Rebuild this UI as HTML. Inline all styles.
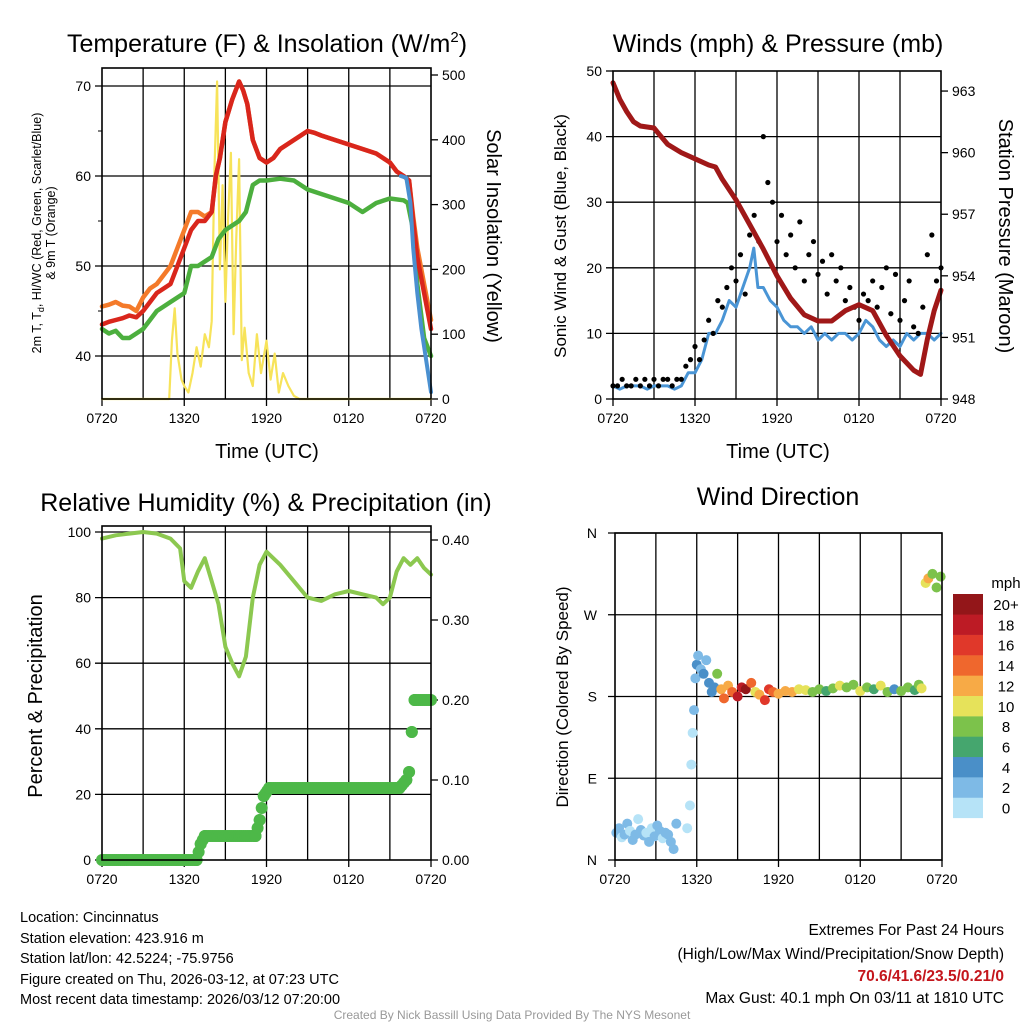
<!DOCTYPE html>
<html><head><meta charset="utf-8">
<style>
html,body{margin:0;padding:0;background:#fff;}
svg{display:block;font-family:"Liberation Sans",Arial,sans-serif;}
</style></head>
<body>
<svg id="c" width="1024" height="1024" viewBox="0 0 1024 1024">
<rect width="1024" height="1024" fill="#fff"/>
<g id="g"></g>
<text x="267" y="52" font-size="25" text-anchor="middle">Temperature (F) &amp; Insolation (W/m<tspan font-size="15" dy="-10">2</tspan><tspan dy="10">)</tspan></text>
<text x="778" y="52" font-size="25" text-anchor="middle">Winds (mph) &amp; Pressure (mb)</text>
<text x="266" y="511" font-size="25" text-anchor="middle">Relative Humidity (%) &amp; Precipitation (in)</text>
<text x="778" y="505" font-size="25" text-anchor="middle">Wind Direction</text>
<text x="267" y="458" font-size="20" text-anchor="middle">Time (UTC)</text>
<text x="778" y="458" font-size="20" text-anchor="middle">Time (UTC)</text>
<text transform="translate(41,233) rotate(-90)" font-size="12.5" text-anchor="middle">2m T, T<tspan font-size="9" dy="3">d</tspan><tspan dy="-3">, HI/WC (Red, Green, Scarlet/Blue)</tspan></text>
<text transform="translate(55,233) rotate(-90)" font-size="12.5" text-anchor="middle">&amp; 9m T (Orange)</text>
<text transform="translate(487,236) rotate(90)" font-size="20" text-anchor="middle">Solar Insolation (Yellow)</text>
<text transform="translate(566,236) rotate(-90)" font-size="17" text-anchor="middle">Sonic Wind &amp; Gust (Blue, Black)</text>
<text transform="translate(999,236) rotate(90)" font-size="20" text-anchor="middle">Station Pressure (Maroon)</text>
<text transform="translate(42,696) rotate(-90)" font-size="20" text-anchor="middle">Percent &amp; Precipitation</text>
<text transform="translate(568,697) rotate(-90)" font-size="17" text-anchor="middle">Direction (Colored By Speed)</text>
<text x="1006" y="588" font-size="15" text-anchor="middle">mph</text>
<g font-size="14.5">
<text x="20" y="922">Location: Cincinnatus</text>
<text x="20" y="943">Station elevation: 423.916 m</text>
<text x="20" y="963">Station lat/lon: 42.5224; -75.9756</text>
<text x="20" y="984">Figure created on Thu, 2026-03-12, at 07:23 UTC</text>
<text x="20" y="1004">Most recent data timestamp: 2026/03/12 07:20:00</text>
</g>
<g font-size="15.5" text-anchor="end">
<text x="1004" y="935">Extremes For Past 24 Hours</text>
<text x="1004" y="959">(High/Low/Max Wind/Precipitation/Snow Depth)</text>
<text x="1004" y="981" fill="#c4161c" font-weight="bold">70.6/41.6/23.5/0.21/0</text>
<text x="1004" y="1003">Max Gust: 40.1 mph On 03/11 at 1810 UTC</text>
</g>
<text x="512" y="1019" font-size="12" fill="#999" text-anchor="middle">Created By Nick Bassill Using Data Provided By The NYS Mesonet</text>
</svg>
<script>
// ---- data (hours since 0720 UTC, value) ----
const xTickLabels = ["0720","1320","1920","0120","0720"];
const tempRed = [[0,43.5],[0.5,43.8],[1,44],[1.5,44.2],[2,44.5],[2.5,44.3],[3,45],[3.5,46],[4,47],[4.5,47.5],[5,48],[5.5,50],[6,52],[6.5,54],[7,55],[7.5,55],[8,56],[8.3,60],[8.6,62],[9,66],[9.5,68.5],[10,70.5],[10.3,69.5],[10.6,68],[11,64],[11.5,62],[12,61.5],[12.5,62],[13,63],[14,64],[14.5,64.5],[15,65],[15.5,64.8],[16,64.5],[17,64],[18,63.5],[19,63],[20,62.5],[21,61.5],[21.5,60.5],[22,60],[22.4,59.5],[22.7,55],[23,51],[23.5,47],[24,43]];
const tempOrange = [[0,45.5],[0.5,45.7],[1,46],[1.5,45.6],[2,45.5],[2.5,45],[3,46.5],[3.5,47.5],[4,48],[4.5,49],[5,50],[5.5,52],[6,54],[6.5,56],[7,56],[7.5,55.5],[8,56],[8.3,60],[8.6,62],[9,66],[9.5,68.5],[10,70.5],[10.3,69.5],[10.6,68],[11,64],[11.5,62],[12,61.5],[12.5,62],[13,63],[14,64],[14.5,64.5],[15,65],[15.5,64.8],[16,64.5],[17,64],[18,63.5],[19,63],[20,62.5],[21,61.5],[21.5,60.5],[22,60],[22.4,59.5],[22.7,55.5],[23,52],[23.5,48],[24,44]];
const tempGreen = [[0,43],[0.5,42.5],[1,42.8],[1.5,42],[2,42],[2.5,42.5],[3,43],[3.5,44],[4,45],[4.5,45.5],[5,46],[5.5,46.5],[6,47],[6.5,50],[7,50],[7.5,50.5],[8,51],[8.5,53],[9,54],[9.5,54.5],[10,55],[10.5,56],[11,59],[11.5,59.5],[12,59.5],[13,59.7],[14,59.5],[15,58.5],[16,58],[17,57.5],[18,57],[18.5,56.5],[19,56],[20,57],[21,57.5],[22,57.3],[22.3,57],[22.7,54],[23,48],[23.5,42],[24,40]];
const tempBlue = [[21.8,60],[22.2,59.8],[22.5,57],[22.7,52],[23,47],[23.3,43],[23.7,39],[24,36]];
const solar = [[0,0],[4.9,0],[5.1,90],[5.3,140],[5.5,70],[5.8,30],[6,20],[6.3,10],[6.6,40],[6.9,80],[7.2,50],[7.5,100],[7.8,80],[8,120],[8.2,350],[8.4,490],[8.6,200],[8.8,330],[9,150],[9.2,280],[9.4,380],[9.6,100],[9.8,250],[10,370],[10.2,60],[10.4,110],[10.7,40],[11,20],[11.3,100],[11.6,40],[12,90],[12.3,30],[12.6,70],[12.9,10],[13.2,40],[13.6,20],[14,5],[14.4,0],[24,0]];
const windSpeed = [[0,2],[0.5,1.5],[1,2],[1.5,2],[2,2],[2.5,1.5],[3,2],[3.5,2],[4,2],[4.5,1.5],[5,2],[5.5,4],[6,4],[6.5,6],[7,10],[7.5,10],[8,12],[8.5,15],[9,14],[9.5,17],[10,20],[10.3,23],[10.6,17],[11,17],[11.5,15],[12,14],[12.5,12],[13,11],[13.5,11],[14,10],[14.5,11],[15,9],[15.5,10],[16,9],[16.5,10],[17,10],[17.5,9],[18,10],[18.5,12],[19,11],[19.5,9],[20,8],[20.5,9],[21,8],[21.5,10],[22,9],[22.5,10],[23,10],[23.5,9],[24,10]];
const gustTimes = [0,0.33,0.67,1,1.33,1.67,2,2.33,2.67,3,3.33,3.67,4,4.33,4.67,5,5.33,5.67,6,6.33,6.67,7,7.33,7.67,8,8.33,8.67,9,9.33,9.67,10,10.33,10.67,11,11.33,11.67,12,12.33,12.67,13,13.33,13.67,14,14.33,14.67,15,15.33,15.67,16,16.33,16.67,17,17.33,17.67,18,18.33,18.67,19,19.33,19.67,20,20.33,20.67,21,21.33,21.67,22,22.33,22.67,23,23.33,23.67,24];
const gustVals = [2,2,3,2,2,3,2,3,2,3,2,3,3,2,3,3,5,6,8,6,9,12,10,15,14,17,20,18,22,16,25,28,24,40,33,30,24,28,22,25,20,27,18,22,24,19,21,16,22,18,20,15,17,14,12,16,15,18,14,17,20,13,19,12,15,18,11,10,14,22,25,18,20];
const pressure = [[0,963.4],[0.5,962.6],[1,962],[1.5,961.5],[2,961.3],[3,961.2],[3.5,960.8],[4,960.4],[5,960],[6,959.7],[7,959.4],[7.5,959.3],[8,958.7],[9,957.7],[10,956.5],[11,955.3],[12,954],[13,952.9],[14,952.1],[15,951.8],[16,951.8],[17,952.3],[18,952.6],[19,952.3],[20,951.1],[21,950.1],[22,949.4],[22.5,949.2],[23,950.9],[23.5,952.3],[24,953.3]];
const rh = [[0,98],[1,99],[2,99.5],[3,100],[4,99.5],[5,98],[5.7,95],[6,85],[6.5,83],[7,88],[7.5,92],[8,85],[8.5,78],[9,65],[9.5,60],[10,56],[10.5,62],[11,80],[11.5,90],[12,94],[13,90],[14,85],[15,80],[16,79],[17,81],[18,82],[19,81],[20,80],[20.5,78],[21,80],[21.5,88],[22,92],[22.5,90],[23,92],[23.5,89],[24,87]];
const precip = [[0,0],[6.9,0],[7.2,0.02],[7.5,0.03],[11.2,0.03],[11.5,0.05],[11.8,0.08],[12.2,0.09],[21.7,0.09],[22.2,0.1],[22.4,0.11],[22.6,0.16],[22.8,0.2],[24,0.2]];
const dirTimes = [0.1,0.3,0.5,0.7,0.9,1.1,1.3,1.5,1.7,1.9,2.1,2.3,2.5,2.7,2.9,3.1,3.3,3.5,3.7,3.9,4.1,4.3,4.5,5.3,5.5,5.6,5.7,5.8,5.9,6,6.1,6.3,6.5,6.7,6.9,7.1,7.3,7.5,7.8,8,8.3,8.6,9,9.3,9.6,10,10.3,10.6,11,11.3,11.6,12,12.5,13,13.5,14,14.5,15,15.5,16,16.5,17,17.5,18,18.5,19,19.5,20,20.5,21,21.5,22,22.3,22.5,22.8,23,23.3,23.6,23.9];
const dirVals = [30,35,25,28,40,32,22,28,45,33,27,30,20,35,26,38,32,24,30,28,20,12,40,35,60,105,140,165,200,215,225,210,205,220,195,185,190,205,188,178,192,185,180,190,188,195,185,182,176,188,185,183,186,185,188,187,185,188,186,189,192,190,193,186,190,188,192,185,188,186,190,187,193,189,305,310,315,300,312];
const dirSpeeds = [3,2,1,3,3,1,2,3,1,3,2,1,3,1,2,2,3,1,3,3,2,2,3,1,1,1,1,2,3,4,3,2,4,3,4,4,5,8,12,14,13,15,19,18,20,15,10,13,17,16,14,12,13,13,11,10,9,8,7,8,10,9,8,10,9,7,10,8,5,9,8,6,8,10,10,12,9,8,8];
const speedBins = ["0","2","4","6","8","10","12","14","16","18","20+"];
const speedColors = ["#b6e3f7","#7ebae6","#4a8fc8","#45a66e","#7cc24b","#e6e25a","#f7aa46","#ef672d","#e0382a","#bd1b25","#931619"];

const NS="http://www.w3.org/2000/svg";
const G=document.getElementById('g');
function mk(tag,attrs,parent){const e=document.createElementNS(NS,tag);for(const k in attrs)e.setAttribute(k,attrs[k]);(parent||G).appendChild(e);return e;}
function txt(x,y,s,size,anchor,parent){const t=mk('text',{x:x,y:y,'font-size':size,'text-anchor':anchor||'middle'},parent);t.textContent=s;return t;}

function panel(p){
  const grp=mk('g',{});
  
  
  p.xs=h=>p.x0+h*(p.x1-p.x0)/24;
  for(let h=3;h<24;h+=3) mk('line',{x1:p.xs(h),x2:p.xs(h),y1:p.y0,y2:p.y1,stroke:'#000','stroke-width':1.3},grp);
  xTickLabels.forEach((l,i)=>{const x=p.xs(i*6);mk('line',{x1:x,x2:x,y1:p.y1,y2:p.y1+7,stroke:'#000','stroke-width':1.3},grp);const t=txt(x,p.y1+24,l,14,'middle',grp);});
  p.grp=grp;return p;
}
function frame(p){mk('rect',{x:p.x0,y:p.y0,width:p.x1-p.x0,height:p.y1-p.y0,fill:'none',stroke:'#000','stroke-width':1.6},p.grp);}
function line(p,data,ys,color,w,name){const d=data.map((v,i)=>(i?'L':'M')+p.xs(v[0]).toFixed(1)+','+ys(v[1]).toFixed(1)).join('');const e=mk('path',{d:d,fill:'none',stroke:color,'stroke-width':w,'stroke-linejoin':'round','stroke-linecap':'round'},p.grp);return e;}

// Panel 1: temperature
const P1=panel({name:'temperature-panel',x0:102,x1:431,y0:68,y1:399});
const tY=v=>356-(v-40)*9, sY=v=>399-v*0.648;
[40,50,60,70].forEach(v=>{mk('line',{x1:P1.x0-7,x2:P1.x1,y1:tY(v),y2:tY(v),stroke:'#000','stroke-width':1.3},P1.grp);txt(P1.x0-11,tY(v)+5,v,14,'end',P1.grp);});
[45,55,65].forEach(v=>mk('line',{x1:P1.x0-4,x2:P1.x0,y1:tY(v),y2:tY(v),stroke:'#000'},P1.grp));
[0,100,200,300,400,500].forEach(v=>{mk('line',{x1:P1.x1,x2:P1.x1+7,y1:sY(v),y2:sY(v),stroke:'#000','stroke-width':1.3},P1.grp);txt(P1.x1+11,sY(v)+5,v,14,'start',P1.grp);});
line(P1,solar,sY,'#f7e35a',2.2,'solar-line');
line(P1,tempOrange,tY,'#f47a2a',4.5,'9m-temp-line');
line(P1,tempGreen,tY,'#4caf3e',4.5,'dewpoint-line');
line(P1,tempRed,tY,'#d9261c',4.5,'2m-temp-line');
line(P1,tempBlue,tY,'#4a90d0',4,'windchill-line');
frame(P1);

// Panel 2: winds
const P2=panel({name:'winds-panel',x0:613,x1:941,y0:71,y1:399});
const wY=v=>399-v*6.56, pY=v=>399-(v-948)*20.53;
[0,10,20,30,40,50].forEach(v=>{mk('line',{x1:P2.x0-7,x2:(v>0&&v<50)?P2.x1:P2.x0,y1:wY(v),y2:wY(v),stroke:'#000','stroke-width':1.3},P2.grp);txt(P2.x0-11,wY(v)+5,v,14,'end',P2.grp);});
[948,951,954,957,960,963].forEach(v=>{mk('line',{x1:P2.x1,x2:P2.x1+7,y1:pY(v),y2:pY(v),stroke:'#000','stroke-width':1.3},P2.grp);txt(P2.x1+11,pY(v)+5,v,14,'start',P2.grp);});
line(P2,windSpeed,wY,'#4a95d5',3,'wind-speed-line');
gustTimes.forEach((h,i)=>{const c=mk('circle',{cx:P2.xs(h),cy:wY(gustVals[i]),r:2.6,fill:'#000'},P2.grp);

});
line(P2,pressure,pY,'#a01818',5,'pressure-line');
frame(P2);

// Panel 3: RH
const P3=panel({name:'rh-panel',x0:102,x1:431,y0:526,y1:860});
const rY=v=>860-v*3.28, qY=v=>860-v*800;
[0,20,40,60,80,100].forEach(v=>{mk('line',{x1:P3.x0-7,x2:(v>0)?P3.x1:P3.x0,y1:rY(v),y2:rY(v),stroke:'#000','stroke-width':1.3},P3.grp);txt(P3.x0-11,rY(v)+5,v,14,'end',P3.grp);});
[0,0.1,0.2,0.3,0.4].forEach(v=>{mk('line',{x1:P3.x1,x2:P3.x1+7,y1:qY(v),y2:qY(v),stroke:'#000','stroke-width':1.3},P3.grp);txt(P3.x1+11,qY(v)+5,v.toFixed(2),14,'start',P3.grp);});
line(P3,rh,rY,'#8cc850',4,'rh-line');
for(let i=1;i<precip.length;i++){const a=precip[i-1],b=precip[i];const n=Math.max(1,Math.round((b[0]-a[0])/0.15));for(let k=0;k<=n;k++){const h=a[0]+(b[0]-a[0])*k/n,v=a[1]+(b[1]-a[1])*k/n;const c=mk('circle',{cx:P3.xs(h),cy:qY(v),r:6,fill:'#4db848'},P3.grp);

}}
frame(P3);

// Panel 4: wind direction
const P4=panel({name:'wind-direction-panel',x0:615,x1:942,y0:533,y1:860});
const dY=v=>860-v*(327/360);
[['N',0],['E',90],['S',180],['W',270],['N',360]].forEach(([l,v])=>{mk('line',{x1:P4.x0-7,x2:P4.x1,y1:dY(v),y2:dY(v),stroke:'#000','stroke-width':1.3},P4.grp);txt(P4.x0-18,dY(v)+5,l,14,'end',P4.grp);});
dirTimes.forEach((h,i)=>{const s=dirSpeeds[i];const bi=Math.min(10,Math.floor(s/2));const c=mk('circle',{cx:P4.xs(h),cy:dY(dirVals[i]),r:5,fill:speedColors[bi]},P4.grp);

});
frame(P4);

// colorbar
const cb=mk('g',{});


speedBins.forEach((l,i)=>{const y=797.5-i*20.35;mk('rect',{x:953,y:y,width:30,height:20.6,fill:speedColors[i]},cb);txt(1006,y+16,l,15,'middle',cb);});
</script>
</body></html>
